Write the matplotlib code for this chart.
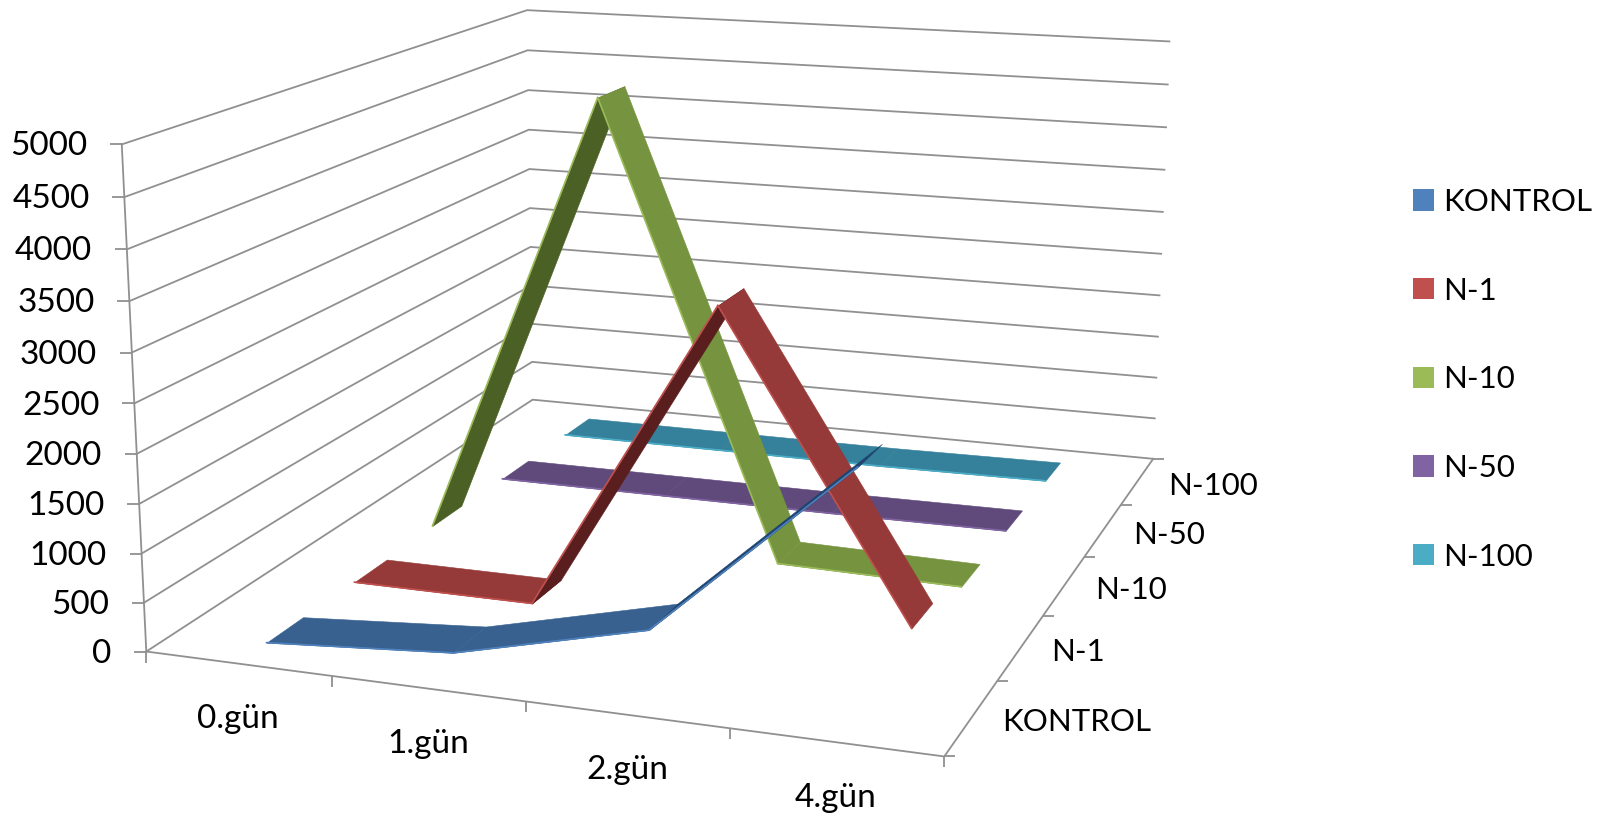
import matplotlib
matplotlib.use("Agg")
import matplotlib.pyplot as plt
from matplotlib.markers import TICKDOWN, TICKLEFT, TICKRIGHT
from matplotlib.patches import Rectangle
from mpl_toolkits.mplot3d import proj3d
from mpl_toolkits.mplot3d.art3d import Poly3DCollection

plt.rcParams['font.family'] = 'Lato'

gunler = ['0.gün', '1.gün', '2.gün', '4.gün']
seriler = ['KONTROL', 'N-1', 'N-10', 'N-50', 'N-100']
kontrol = [10, 150, 620, 2400]
n_1 = [0, 0, 3280, 210]
n_10 = [20, 4900, 30, 0]
n_50 = [0, 0, 0, 10]
n_100 = [0, 0, 0, 20]
degerler = [kontrol, n_1, n_10, n_50, n_100]
z_etiket = list(range(0, 5001, 500))

renk_ana = ['#4F81BD', '#C0504D', '#9BBB59', '#8064A2', '#4BACC6']
renk_ust = ['#386190', '#953A38', '#769440', '#604A7B', '#35809A']
renk_alt = ['#1E4470', '#5A1E1E', '#4B6025', '#46345C', '#215A6E']
gri = '#909090'

fig = plt.figure(figsize=(16.05, 8.21), dpi=100)
ax = fig.add_axes([62.97 / 1605, -137.67 / 821, 1242 / 1605, 1242 / 821],
                  projection='3d', computed_zorder=False)
ax.set_axis_off()
ax.patch.set_visible(False)

# duvar cizgileri
for z in z_etiket:
    ax.plot([0, 0, 4], [0, 5, 5], [z, z, z], color=gri, lw=1.3, zorder=1)
ax.plot([0, 0], [0, 0], [0, 5000], color=gri, lw=1.3, zorder=1)
ax.plot([0, 4, 4], [0, 0, 5], [0, 0, 0], color=gri, lw=1.3, zorder=1)

# tik isaretleri
ax.plot([0] * 11, [0] * 11, z_etiket, ls='none', marker=TICKLEFT, ms=9, mew=1.3, color=gri, zorder=1)
ax.plot(range(5), [0] * 5, [0] * 5, ls='none', marker=TICKDOWN, ms=8, mew=1.3, color=gri, zorder=1)
ax.plot([4] * 6, range(6), [0] * 6, ls='none', marker=TICKRIGHT, ms=8, mew=1.3, color=gri, zorder=1)

# seritler, arkadan one
for s in range(4, -1, -1):
    v = degerler[s]
    y0, y1 = s + 0.3, s + 0.7
    for i in range(3):
        x0, x1 = i + 0.5, i + 1.5
        yuzey = [[(x0, y0, v[i]), (x1, y0, v[i + 1]), (x1, y1, v[i + 1]), (x0, y1, v[i])]]
        r = renk_alt[s] if v[i + 1] - v[i] > 1000 else renk_ust[s]
        ax.add_collection3d(Poly3DCollection(yuzey, facecolors=r, edgecolors=r, linewidths=0.4,
                                             zorder=10 + (4 - s) * 10 + i))
        ax.plot([x0, x1], [y0, y0], [v[i], v[i + 1]], color=renk_ana[s], lw=1.2,
                zorder=10 + (4 - s) * 10 + i + 0.5)

ax.set_xlim(0, 4, view_margin=0)
ax.set_ylim(0, 5, view_margin=0)
ax.set_zlim(0, 5000, view_margin=0)
ax.view_init(elev=13.85, azim=-70.635)
ax.set_proj_type('persp', focal_length=0.433)
ax.set_box_aspect((5.511, 6.733, 3.449))
M = ax.get_proj()


def etiket(x, y, z, yazi, dx, dy, ha, fs):
    px, py, _ = proj3d.proj_transform(x, y, z, M)
    ax.annotate(yazi, (px, py), xytext=(dx, dy), textcoords='offset points',
                ha=ha, va='center', fontsize=fs)


for z in z_etiket:
    etiket(0, 0, z, str(z), -25, -1.5, 'right', 24)
for i, g in enumerate(gunler):
    etiket(i + 0.5, 0, 0, g, 0, -40, 'center', 24)
for i, g in enumerate(seriler):
    etiket(4, i + 0.5, 0, g, 22, -3, 'left', 22.5)

el = [Rectangle((0, 0), 1, 1, facecolor=c, lw=0) for c in renk_ana]
fig.legend(el, seriler, loc='upper left', bbox_to_anchor=(1413 / 1605, 1 - 188 / 821), frameon=False,
           fontsize=22.5, borderpad=0, borderaxespad=0, handlelength=0.67, handleheight=0.67,
           handletextpad=0.28, labelspacing=1.94)

fig.savefig('out.png', dpi=100)
